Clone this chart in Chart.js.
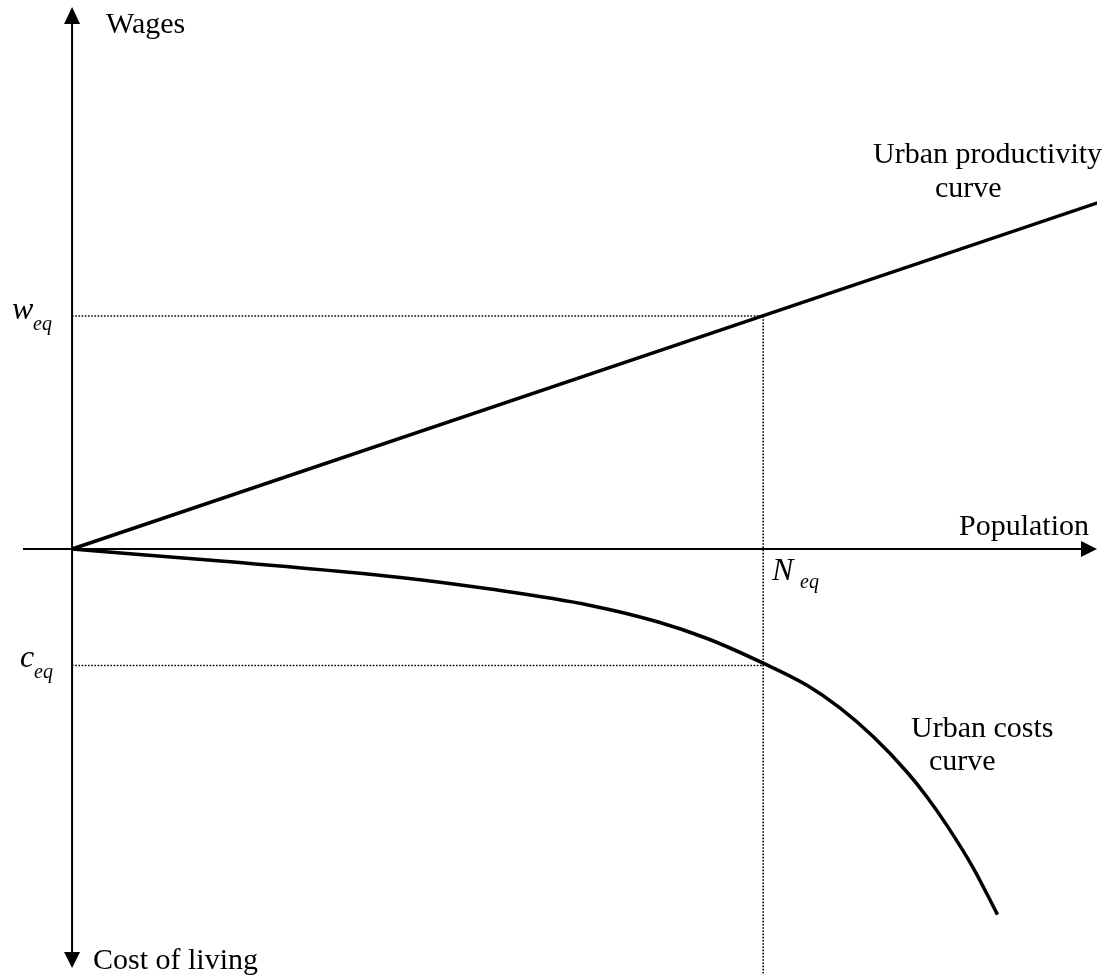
<!DOCTYPE html>
<html>
<head>
<meta charset="utf-8">
<script src="https://cdn.jsdelivr.net/npm/chart.js@4/dist/chart.umd.min.js"></script>
<style>
    html, body { margin: 0; padding: 0; background: #fff; }
    #wrap { width: 1112px; height: 980px; }
</style>
</head>
<body>
<div id="wrap"><canvas id="chart" width="1112" height="980"></canvas></div>
<script>
// population (x) and wages / cost of living (y), in arbitrary units
const productivityX = [0, 14.85];
const productivityY = [0, 14.87];

const costsX = [0, 2.24, 4.75, 6.05, 7.50, 8.47, 9.19, 10, 10.64, 11.11, 11.59, 12.08, 12.37, 12.66, 13.04, 13.39];
const costsY = [0, -0.54, -1.22, -1.72, -2.42, -3.12, -3.84, -4.90, -5.86, -6.82, -8.05, -9.57, -10.64, -11.87, -13.69, -15.69];

const nEq = 10;
const wEq = 10;
const cEq = -5.0;

const xRange = [-0.71, 14.83];
const yRange = [-17.98, 23.26];

const FONT = '"Liberation Serif", "Times New Roman", serif';

function pts(xs, ys) {
    return xs.map((x, i) => ({ x: x, y: ys[i] }));
}

const axesPlugin = {
    id: 'axesPlugin',
    afterDatasetsDraw(chart) {
        const ctx = chart.ctx;
        const xs = chart.scales.x;
        const ys = chart.scales.y;
        const ox = xs.getPixelForValue(0);
        const oy = ys.getPixelForValue(0);
        const top = ys.getPixelForValue(yRange[1]);
        const bottom = ys.getPixelForValue(yRange[0]);
        const left = xs.getPixelForValue(xRange[0]);
        const right = xs.getPixelForValue(xRange[1]);

        ctx.save();
        ctx.strokeStyle = '#000';
        ctx.fillStyle = '#000';
        ctx.lineWidth = 2;
        ctx.beginPath();
        ctx.moveTo(ox, top + 14);
        ctx.lineTo(ox, bottom - 14);
        ctx.moveTo(left, oy);
        ctx.lineTo(right - 14, oy);
        ctx.stroke();

        // arrow heads
        ctx.beginPath();
        ctx.moveTo(ox, top);
        ctx.lineTo(ox - 8, top + 17);
        ctx.lineTo(ox + 8, top + 17);
        ctx.closePath();
        ctx.fill();
        ctx.beginPath();
        ctx.moveTo(ox, bottom);
        ctx.lineTo(ox - 8, bottom - 16);
        ctx.lineTo(ox + 8, bottom - 16);
        ctx.closePath();
        ctx.fill();
        ctx.beginPath();
        ctx.moveTo(right, oy);
        ctx.lineTo(right - 16, oy - 8);
        ctx.lineTo(right - 16, oy + 8);
        ctx.closePath();
        ctx.fill();

        // text labels
        ctx.textBaseline = 'alphabetic';
        ctx.textAlign = 'left';
        ctx.font = '30px ' + FONT;
        ctx.fillText('Wages', 106, 33);
        ctx.fillText('Population', 959, 535);
        ctx.fillText('Urban productivity', 873, 163);
        ctx.fillText('curve', 935, 197);
        ctx.fillText('Urban costs', 911, 737);
        ctx.fillText('curve', 929, 770);
        ctx.fillText('Cost of living', 93, 969);

        const sub = (main, x, y, sx, sy) => {
            ctx.font = 'italic 32px ' + FONT;
            ctx.fillText(main, x, y);
            ctx.font = 'italic 20px ' + FONT;
            ctx.fillText('eq', sx, sy);
        };
        sub('w', 12, 319, 33, 330);
        sub('c', 20, 667, 34, 678);
        sub('N', 772, 580, 800, 588);
        ctx.restore();
    }
};

const dotted = {
    borderColor: '#000',
    borderWidth: 1.6,
    borderDash: [1.6, 1.6],
    pointRadius: 0,
    fill: false,
    tension: 0,
    clip: false
};

new Chart(document.getElementById('chart'), {
    type: 'line',
    data: {
        datasets: [
            Object.assign({ label: 'w_eq', data: pts([0, nEq], [wEq, wEq]) }, dotted),
            Object.assign({ label: 'c_eq', data: pts([0, nEq], [cEq, cEq]) }, dotted),
            Object.assign({ label: 'N_eq', data: pts([nEq, nEq], [wEq, -18.2]) }, dotted),
            {
                label: 'Urban productivity curve',
                data: pts(productivityX, productivityY),
                borderColor: '#000',
                borderWidth: 3.5,
                pointRadius: 0,
                tension: 0
            },
            {
                label: 'Urban costs curve',
                data: pts(costsX, costsY),
                borderColor: '#000',
                borderWidth: 3.5,
                pointRadius: 0,
                cubicInterpolationMode: 'monotone'
            }
        ]
    },
    options: {
        responsive: false,
        animation: false,
        layout: { padding: { left: 23, right: 15, top: 7, bottom: 12 } },
        plugins: { legend: { display: false }, tooltip: { enabled: false } },
        scales: {
            x: { type: 'linear', min: xRange[0], max: xRange[1], display: false },
            y: { type: 'linear', min: yRange[0], max: yRange[1], display: false }
        }
    },
    plugins: [axesPlugin]
});
</script>
</body>
</html>
